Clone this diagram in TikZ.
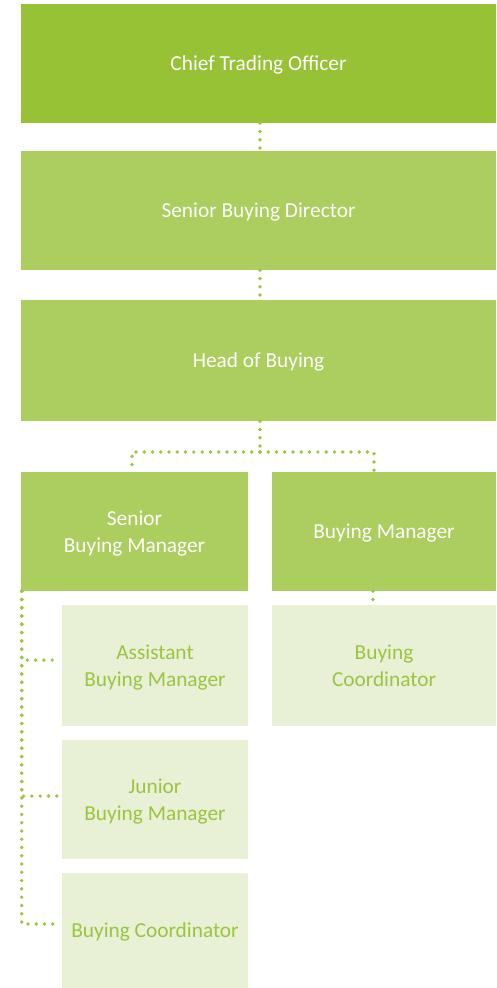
\documentclass[tikz,border=0pt]{standalone}
\usepackage{fontspec}
\setmainfont{Carlito}
\definecolor{topgreen}{HTML}{98C235}
\definecolor{midgreen}{HTML}{ABCE5E}
\definecolor{palegreen}{HTML}{E8F1D6}
\definecolor{textgreen}{HTML}{9AC53F}
\tikzset{
    orgbox/.style={inner sep=0pt,align=center,text depth=0pt,font=\fontsize{16}{20}\selectfont},
    topbox/.style={orgbox,fill=topgreen,text=white},
    midbox/.style={orgbox,fill=midgreen,text=white},
    palebox/.style={orgbox,fill=palegreen,text=textgreen},
    link/.style={draw=textgreen,line width=2.8pt,line cap=round,dash pattern=on 0pt off 6.2pt}
}
\begin{document}
\begin{tikzpicture}[x=0.75pt,y=-0.75pt]
    \useasboundingbox (0,0) rectangle (496,988);

    % Top of the chain
    \node[topbox,minimum width=356.25pt,minimum height=89.25pt] (cto) at (258.5,63.5) {Chief Trading Officer};
    \node[midbox,minimum width=356.25pt,minimum height=89.25pt] (sbd) at (258.5,210.5) {Senior Buying Director};
    \node[midbox,minimum width=356.25pt,minimum height=90.75pt] (hob) at (258.5,360.5) {Head of Buying};

    % Managers
    \node[midbox,minimum width=170.25pt,minimum height=89.25pt] (sbm) at (134.5,531.5) {Senior\\Buying Manager};
    \node[midbox,minimum width=168pt,minimum height=89.25pt] (bm) at (384,531.5) {Buying Manager};

    % Team under the senior manager
    \node[palebox,minimum width=139.5pt,minimum height=90.75pt] (abm) at (155,665.5) {Assistant\\Buying Manager};
    \node[palebox,minimum width=139.5pt,minimum height=89.25pt] (jbm) at (155,799.5) {Junior\\Buying Manager};
    \node[palebox,minimum width=139.5pt,minimum height=86.25pt] (bcl) at (155,930.5) {Buying Coordinator};

    % Team under the buying manager
    \node[palebox,minimum width=168pt,minimum height=90.75pt] (bcr) at (384,665.5) {Buying\\Coordinator};

    % Dotted links
    \draw[link] ([xshift=1.1pt]cto.south) -- ([xshift=1.1pt]sbd.north);
    \draw[link] ([xshift=1.1pt]sbd.south) -- ([xshift=1.1pt]hob.north);
    \coordinate (split) at (260,452);
    \draw[link] ([xshift=1.1pt]hob.south) -- (split);
    \draw[link] (split) -| ([xshift=-1.9pt]sbm.north);
    \draw[link] (split) -| ([xshift=-7.5pt]bm.north);
    \draw[link] ([xshift=0.75pt]sbm.south west) |- ([xshift=-3.75pt,yshift=4.1pt]abm.west);
    \draw[link] ([xshift=0.75pt]sbm.south west) |- ([xshift=-3.75pt,yshift=2.6pt]jbm.west);
    \draw[link] ([xshift=0.75pt]sbm.south west) |- ([xshift=-3.75pt,yshift=4.9pt]bcl.west);
    \draw[link] ([xshift=-8.25pt]bm.south) -- ([xshift=-8.25pt]bcr.north);
\end{tikzpicture}
\end{document}
